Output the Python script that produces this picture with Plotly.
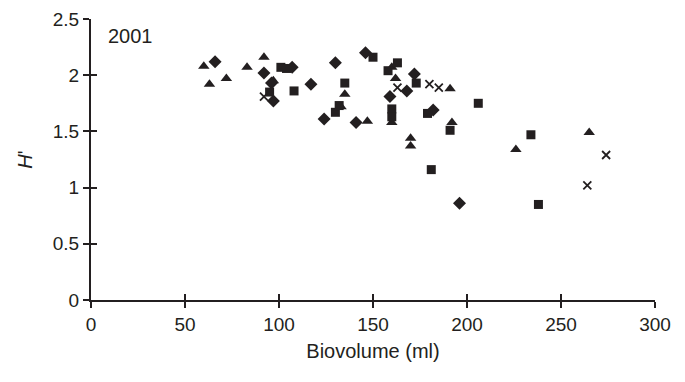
import plotly.graph_objects as go

# Data (Biovolume ml, H')
tri_x = [60, 63, 72, 83, 92, 97, 133, 135, 147, 160, 160, 162, 170, 170, 191, 192, 226, 265]
tri_y = [2.08, 1.92, 1.97, 2.07, 2.16, 1.95, 1.72, 1.83, 1.59, 2.07, 1.58, 1.97, 1.44, 1.37, 1.88, 1.58, 1.34, 1.49]

dia_x = [66, 92, 96, 97, 107, 117, 124, 130, 141, 146, 159, 168, 172, 182, 196]
dia_y = [2.12, 2.02, 1.93, 1.77, 2.07, 1.92, 1.61, 2.11, 1.58, 2.2, 1.81, 1.86, 2.01, 1.69, 0.86]

sq_x = [95, 101, 104, 108, 130, 132, 135, 150, 158, 160, 160, 163, 173, 179, 181, 191, 206, 234, 238]
sq_y = [1.85, 2.07, 2.06, 1.86, 1.67, 1.73, 1.93, 2.16, 2.04, 1.7, 1.63, 2.11, 1.93, 1.66, 1.16, 1.51, 1.75, 1.47, 0.85]

x_x = [92, 163, 180, 185, 264, 274]
x_y = [1.81, 1.89, 1.92, 1.89, 1.02, 1.29]

x_ticks = [0, 50, 100, 150, 200, 250, 300]
y_ticks = [0, 0.5, 1, 1.5, 2, 2.5]
y_tick_text = ["0", "0.5", "1", "1.5", "2", "2.5"]

INK = "#231f20"
FONT = "Liberation Sans, Arial, sans-serif"

fig = go.Figure()
fig.add_trace(go.Scatter(x=tri_x, y=tri_y, mode="markers",
                         marker=dict(symbol="triangle-up", size=10, color=INK)))
fig.add_trace(go.Scatter(x=dia_x, y=dia_y, mode="markers",
                         marker=dict(symbol="diamond", size=10, color=INK)))
fig.add_trace(go.Scatter(x=sq_x, y=sq_y, mode="markers",
                         marker=dict(symbol="square", size=9, color=INK)))
fig.add_trace(go.Scatter(x=x_x, y=x_y, mode="markers",
                         marker=dict(symbol="x-thin", size=8, color=INK,
                                     line=dict(width=1.8, color=INK))))

fig.update_layout(
    width=685, height=382,
    margin=dict(l=83, r=38, t=11, b=90),
    plot_bgcolor="white", paper_bgcolor="white",
    showlegend=False,
    font=dict(family=FONT, size=19, color=INK),
    xaxis=dict(range=[0, 300], tickvals=x_ticks, ticks="outside", ticklen=6,
               tickwidth=1.5, tickcolor=INK, showline=True, linewidth=2, linecolor=INK,
               showgrid=False, zeroline=False, automargin=False, ticklabeloverflow="allow",
               title=dict(text="Biovolume (ml)", standoff=10, font=dict(size=20))),
    yaxis=dict(range=[0, 2.5], tickvals=y_ticks, ticktext=y_tick_text, ticks="outside",
               ticklen=6, tickwidth=1.5, tickcolor=INK, showline=True, linewidth=2,
               linecolor=INK, showgrid=False, zeroline=False, automargin=False,
               ticklabeloverflow="allow",
               title=dict(text="<i>H</i>'", standoff=15, font=dict(size=20))),
    xaxis2=dict(range=[0, 300], tickvals=x_ticks, overlaying="x", anchor="y", side="bottom",
                ticks="inside", ticklen=6, tickwidth=1.5, tickcolor=INK, automargin=False,
                showticklabels=False, showgrid=False, zeroline=False, showline=False),
    yaxis2=dict(range=[0, 2.5], tickvals=y_ticks, overlaying="y", anchor="x", side="left",
                ticks="inside", ticklen=6, tickwidth=1.5, tickcolor=INK, automargin=False,
                showticklabels=False, showgrid=False, zeroline=False, showline=False),
    annotations=[dict(text="2001", x=0.027, y=0.985, xref="paper", yref="paper",
                      xanchor="left", yanchor="top", showarrow=False,
                      font=dict(size=20, color=INK))],
)
# invisible trace to activate the secondary axes
fig.add_trace(go.Scatter(x=[None], y=[None], xaxis="x2", yaxis="y2", showlegend=False))

fig.write_html("out.html")
